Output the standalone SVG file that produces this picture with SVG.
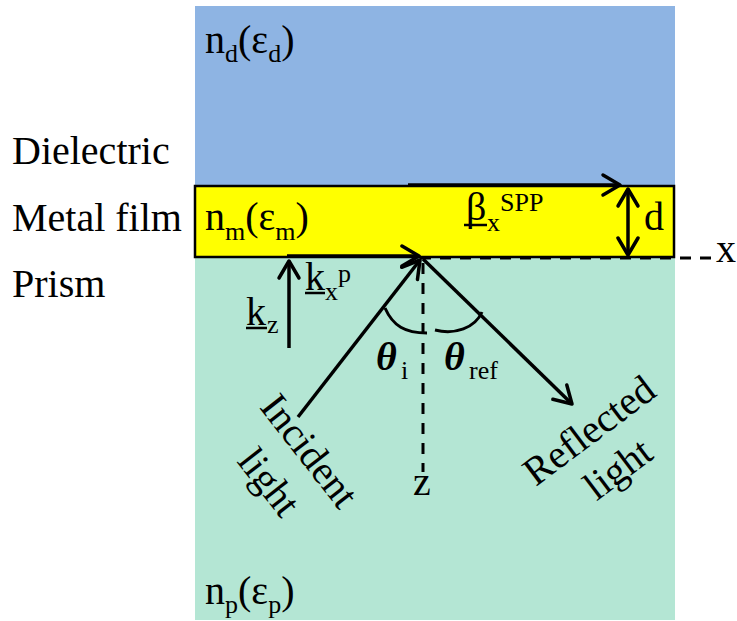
<svg xmlns="http://www.w3.org/2000/svg" width="737" height="621" viewBox="0 0 737 621">
<defs>
<style>
text{font-family:"Liberation Serif","Times New Roman",serif;font-size:40px;fill:#000}
.s{font-size:26px}
.th{font-style:italic;font-weight:bold}
.ln{stroke:#000;stroke-width:3.5;fill:none}
.ul{stroke:#000;stroke-width:2.5}
.dash{stroke:#000;stroke-width:3;stroke-dasharray:11 9;fill:none}
</style>
<marker id="ah" viewBox="0 0 24 24" markerWidth="24" markerHeight="24" refX="21" refY="12" orient="auto-start-reverse" markerUnits="userSpaceOnUse" overflow="visible">
<path d="M4,2 L21,12 L4,22" fill="none" stroke="#000" stroke-width="3.5" stroke-linecap="round" stroke-linejoin="round"/>
</marker>
</defs>
<rect width="737" height="621" fill="#fff"/>
<g id="dielectric">
<rect x="195" y="6" width="480" height="180" fill="#8EB4E3"/>
<text x="205" y="53">n<tspan class="s" y="62">d</tspan><tspan y="53">(ε</tspan><tspan class="s" y="62">d</tspan><tspan y="53">)</tspan></text>
</g>
<g id="prism">
<rect x="195" y="257" width="480" height="363" fill="#B4E6D4"/>
<text x="205" y="604">n<tspan class="s" y="613">p</tspan><tspan y="604">(ε</tspan><tspan class="s" y="613">p</tspan><tspan y="604">)</tspan></text>
</g>
<g id="metal-film">
<rect x="195" y="186" width="479" height="71" fill="#FFFF00" stroke="#000" stroke-width="2.5"/>
<text x="205" y="230">n<tspan class="s" y="240">m</tspan><tspan y="230">(ε</tspan><tspan class="s" y="240">m</tspan><tspan y="230">)</tspan></text>
</g>
<g id="labels">
<text x="12" y="164">Dielectric</text>
<text x="12" y="231">Metal film</text>
<text x="12" y="297">Prism</text>
</g>
<g id="connectors">
<path class="dash" d="M420,258 L714,258"/>
<path class="dash" d="M423,263 L423,472"/>
<path class="ln" d="M408,185 L620,185" marker-end="url(#ah)"/>
<path class="ln" d="M628,189 L628,255" marker-start="url(#ah)" marker-end="url(#ah)"/>
<path class="ln" d="M287,256 L419,256" marker-end="url(#ah)"/>
<path class="ln" d="M289,348 L289,261" marker-end="url(#ah)"/>
<path class="ln" d="M298,417 L420,260" marker-end="url(#ah)"/>
<path class="ln" d="M423,259 L572,404" marker-end="url(#ah)"/>
<path class="ln" style="stroke-width:3" d="M385,308 C393,326 405,333 427,333"/>
<path class="ln" style="stroke-width:3" d="M435,330 C455,335 475,328 482,312"/>
</g>
<g id="beta-label">
<text x="466" y="220">β<tspan class="s" x="487" y="231">x</tspan><tspan class="s" x="500" y="211">SPP</tspan></text>
<line class="ul" x1="464" y1="225" x2="487" y2="225"/>
</g>
<g id="d-label"><text x="644" y="230">d</text></g>
<g id="x-label"><text x="716" y="262">x</text></g>
<g id="z-label"><text x="413" y="495">z</text></g>
<g id="kx-label">
<text x="305" y="290">k<tspan class="s" x="325" y="300">x</tspan><tspan class="s" x="338" y="282">p</tspan></text>
<line class="ul" x1="305" y1="293" x2="325" y2="293"/>
</g>
<g id="kz-label">
<text x="246" y="325">k<tspan class="s" x="267" y="333">z</tspan></text>
<line class="ul" x1="246" y1="328" x2="267" y2="328"/>
</g>
<g id="theta-i">
<text x="376" y="370"><tspan class="th">θ</tspan><tspan class="s" x="401" y="379">i</tspan></text>
</g>
<g id="theta-ref">
<text x="444" y="370"><tspan class="th">θ</tspan><tspan class="s" x="469" y="379">ref</tspan></text>
</g>
<g id="incident-label">
<text transform="translate(299,459) rotate(52)" text-anchor="middle"><tspan x="0" y="0">Incident</tspan><tspan x="0" y="51">light</tspan></text>
</g>
<g id="reflected-label">
<text transform="translate(597,441) rotate(-37)" text-anchor="middle"><tspan x="0" y="0">Reflected</tspan><tspan x="0" y="48">light</tspan></text>
</g>
</svg>
